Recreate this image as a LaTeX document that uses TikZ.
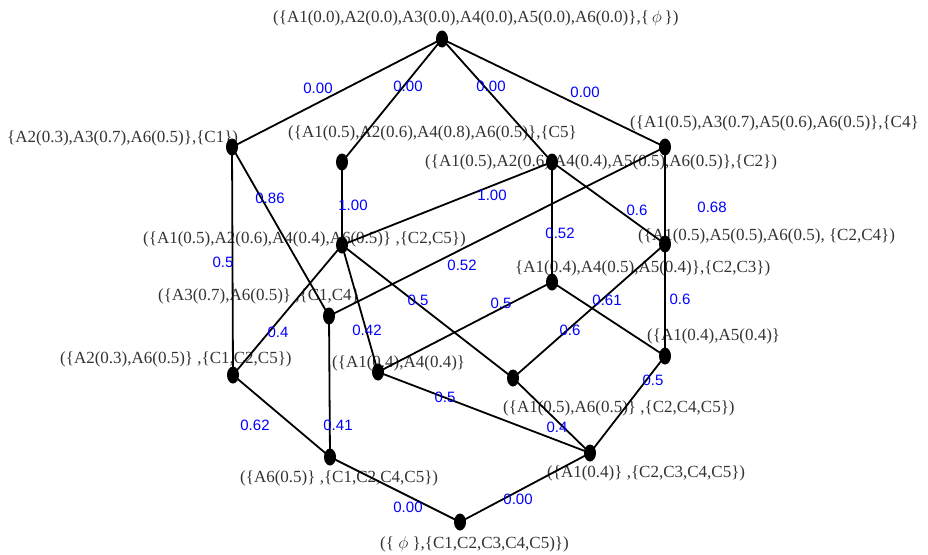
\documentclass[tikz,border=0pt]{standalone}
\usepackage{fontspec}
\setmainfont{Liberation Serif}
\newfontfamily\wfont{Liberation Sans}
\usetikzlibrary{shapes.geometric}
\definecolor{txtgray}{HTML}{333333}
\begin{document}
\begin{tikzpicture}[x=1pt,y=-1pt,
  dot/.style={fill=black,draw=none,ellipse,minimum width=12pt,minimum height=17pt,inner sep=0pt},
  lbl/.style={anchor=base west,inner sep=0pt,text=txtgray,font=\fontsize{17}{19}\selectfont},
  wt/.style={inner sep=0pt,text=blue,font=\wfont\fontsize{15}{17}\selectfont},
  edge/.style={draw=black,line width=1.8pt}]
\useasboundingbox (0,0) rectangle (928,554);
% text labels
\node[lbl] (t0) at (273,22) {(\{A1(0.0),A2(0.0),A3(0.0),A4(0.0),A5(0.0),A6(0.0)\},\{\,$\phi$\,\})};
\node[lbl] (t1) at (7,142) {\{A2(0.3),A3(0.7),A6(0.5)\},\{C1\})};
\node[lbl] (t2) at (288,137) {(\{A1(0.5),A2(0.6),A4(0.8),A6(0.5)\},\{C5\}};
\node[lbl] (t3) at (425,166) {(\{A1(0.5),A2(0.6),A4(0.4),A5(0.5),A6(0.5)\},\{C2\})};
\node[lbl] (t4) at (630,127) {(\{A1(0.5),A3(0.7),A5(0.6),A6(0.5)\},\{C4\}};
\node[lbl] (t5) at (143,243) {(\{A1(0.5),A2(0.6),A4(0.4),A6(0.5)\} ,\{C2,C5\})};
\node[lbl] (t6) at (638,240) {(\{A1(0.5),A5(0.5),A6(0.5), \{C2,C4\})};
\node[lbl] (t7) at (515,272) {\{A1(0.4),A4(0.5),A5(0.4)\},\{C2,C3\})};
\node[lbl] (t8) at (158,300) {(\{A3(0.7),A6(0.5)\} ,\{C1,C4\}};
\node[lbl] (t9) at (60,363) {(\{A2(0.3),A6(0.5)\} ,\{C1,C2,C5\})};
\node[lbl] (t10) at (332,367) {(\{A1(0.4),A4(0.4)\}};
\node[lbl] (t11) at (503,412) {(\{A1(0.5),A6(0.5)\} ,\{C2,C4,C5\})};
\node[lbl] (t12) at (647,340) {(\{A1(0.4),A5(0.4)\}};
\node[lbl] (t13) at (240,482) {(\{A6(0.5)\} ,\{C1,C2,C4,C5\})};
\node[lbl] (t14) at (547,477) {(\{A1(0.4)\} ,\{C2,C3,C4,C5\})};
\node[lbl] (t15) at (380,548) {(\{ $\phi$ \},\{C1,C2,C3,C4,C5)\})};
% dots
\node[dot] (n0) at (442,39) {};
\node[dot] (n1) at (232,147) {};
\node[dot] (n2) at (342,162) {};
\node[dot] (n3) at (552,162) {};
\node[dot] (n4) at (665,147) {};
\node[dot] (n5) at (342,245) {};
\node[dot] (n6) at (665,244) {};
\node[dot] (n7) at (552,282) {};
\node[dot] (n8) at (329,316) {};
\node[dot] (n9) at (233,375) {};
\node[dot] (n10) at (378,372) {};
\node[dot] (n11) at (513,378) {};
\node[dot] (n12) at (665,356) {};
\node[dot] (n13) at (330,457) {};
\node[dot] (n14) at (590,453) {};
\node[dot] (n15) at (460,522) {};
% edges
\foreach \a/\b in {n0/n1,n0/n2,n0/n3,n0/n4,n1/n9,n1/n8,n2/n5,n3/n5,n3/n6,n3/n7,n4/n8,n4/n6,
  n5/n9,n5/n10,n5/n11,n6/n11,n6/n12,n7/n10,n7/n12,n8/n13,n9/n13,n10/n14,n11/n14,n12/n14,n13/n15,n14/n15}
  \draw[edge] (\a.center) -- (\b.center);
% weights
\node[wt] (w1) at (318,88) {0.00};
\node[wt] (w2) at (408,86) {0.00};
\node[wt] (w3) at (491,86) {0.00};
\node[wt] (w4) at (585,92) {0.00};
\node[wt] (w5) at (270,198) {0.86};
\node[wt] (w6) at (353,205) {1.00};
\node[wt] (w7) at (492,195) {1.00};
\node[wt] (w8) at (637,210) {0.6};
\node[wt] (w9) at (712,207) {0.68};
\node[wt] (w10) at (223,262) {0.5};
\node[wt] (w11) at (560,233) {0.52};
\node[wt] (w12) at (462,265) {0.52};
\node[wt] (w13) at (278,332) {0.4};
\node[wt] (w14) at (367,330) {0.42};
\node[wt] (w15) at (418,300) {0.5};
\node[wt] (w16) at (501,303) {0.5};
\node[wt] (w17) at (607,300) {0.61};
\node[wt] (w18) at (570,330) {0.6};
\node[wt] (w19) at (680,299) {0.6};
\node[wt] (w20) at (338,425) {0.41};
\node[wt] (w21) at (255,425) {0.62};
\node[wt] (w22) at (445,397) {0.5};
\node[wt] (w23) at (557,427) {0.4};
\node[wt] (w24) at (653,380) {0.5};
\node[wt] (w25) at (408,507) {0.00};
\node[wt] (w26) at (518,499) {0.00};
\end{tikzpicture}
\end{document}
